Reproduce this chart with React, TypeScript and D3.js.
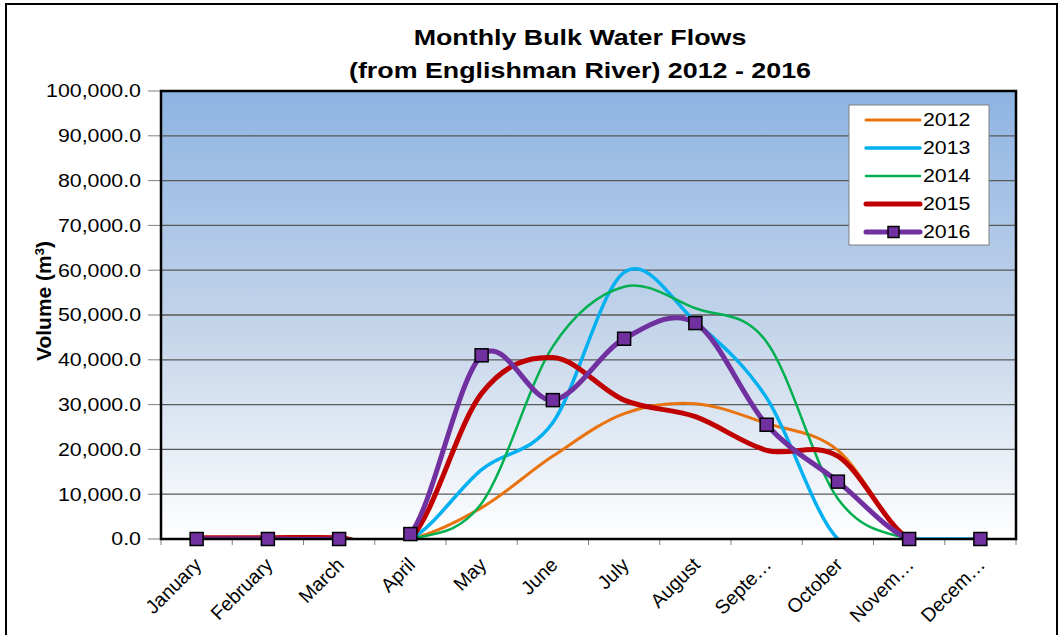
import * as d3 from "d3";

const months = [
  "January", "February", "March", "April", "May", "June",
  "July", "August", "Septe…", "October", "Novem…", "Decem…",
];
const years = ["2012", "2013", "2014", "2015", "2016"];

const flow2012 = [0, 0, 0, 0, 7000, 18500, 28000, 30200, 25800, 19800, 0, 0];
const flow2013 = [0, 0, 0, 0, 15500, 26000, 59500, 48500, 31500, 0, 0, 0];
const flow2014 = [0, 0, 0, 0, 8000, 43000, 56300, 51500, 44000, 9000, 0, 0];
const flow2015 = [300, 300, 300, 0, 32500, 40500, 31000, 27300, 19800, 18500, 0, 0];
const flow2016 = [0, 0, 0, 1100, 41000, 31000, 44700, 48200, 25500, 12800, 0, 0];

const yTicks = [0, 10000, 20000, 30000, 40000, 50000, 60000, 70000, 80000, 90000, 100000];

const series = [
  { name: years[0], values: flow2012, color: "#E8730F", width: 3 },
  { name: years[1], values: flow2013, color: "#00B0F0", width: 3.5 },
  { name: years[2], values: flow2014, color: "#00B050", width: 2.5 },
  { name: years[3], values: flow2015, color: "#C00000", width: 5 },
  { name: years[4], values: flow2016, color: "#7030A0", width: 5, marker: true },
];

const W = 1062;
const H = 635;
const plot = { left: 161, right: 1016, top: 91, bottom: 539 };
const FONT = "'Liberation Sans', Arial, sans-serif";
// the text in the original is a little wider than it is tall
const SX = 1.22;

export default function App() {
  const x = d3
    .scaleBand<string>()
    .domain(months)
    .range([plot.left, plot.right]);
  const y = d3
    .scaleLinear()
    .domain([0, 100000])
    .range([plot.bottom, plot.top]);

  const cx = (i: number) => (x(months[i]) as number) + x.bandwidth() / 2;

  const line = d3
    .line<number>()
    .x((_, i) => cx(i))
    .y((d) => y(d))
    .curve(d3.curveCardinal.tension(0));

  const fmt = d3.format(",.1f");

  return (
    <svg
      width={W}
      height={H}
      style={{ position: "absolute", left: 0, top: 0, background: "#fff" }}
      fontFamily={FONT}
    >
      <defs>
        <linearGradient id="bg" x1="0" y1="0" x2="0" y2="1">
          <stop offset="0" stopColor="#8EB4E3" />
          <stop offset="0.55" stopColor="#C6D6EA" />
          <stop offset="1" stopColor="#FFFFFF" />
        </linearGradient>
        <clipPath id="clip">
          <rect x={plot.left} y={plot.top} width={plot.right - plot.left} height={plot.bottom - plot.top} />
        </clipPath>
      </defs>

      {/* outer frame */}
      <rect x={6} y={4} width={1051} height={680} fill="none" stroke="#000" strokeWidth={2} />

      {/* title */}
      <g transform={`translate(580,45) scale(${SX},1)`}>
        <text textAnchor="middle" fontSize={22} fontWeight="bold">
          Monthly Bulk Water Flows
        </text>
      </g>
      <g transform={`translate(580,78) scale(${SX},1)`}>
        <text textAnchor="middle" fontSize={22} fontWeight="bold">
          (from Englishman River) 2012 - 2016
        </text>
      </g>

      {/* plot background */}
      <rect
        x={plot.left}
        y={plot.top}
        width={plot.right - plot.left}
        height={plot.bottom - plot.top}
        fill="url(#bg)"
      />

      {/* gridlines + y ticks */}
      {yTicks.map((t) => (
        <g key={t}>
          {t > 0 && t < 100000 && (
            <line x1={plot.left} x2={plot.right} y1={y(t)} y2={y(t)} stroke="#595959" strokeWidth={1.3} />
          )}
          <line x1={plot.left - 13} x2={plot.left} y1={y(t)} y2={y(t)} stroke="#808080" strokeWidth={1} />
          <g transform={`translate(${plot.left - 20},${y(t)}) scale(${SX},1)`}>
            <text dy="0.36em" textAnchor="end" fontSize={17.5}>
              {fmt(t)}
            </text>
          </g>
        </g>
      ))}

      {/* x ticks */}
      {months.map((m) => (
        <line
          key={m}
          x1={x(m) as number}
          x2={x(m) as number}
          y1={plot.bottom}
          y2={plot.bottom + 6}
          stroke="#808080"
        />
      ))}
      <line x1={plot.right} x2={plot.right} y1={plot.bottom} y2={plot.bottom + 6} stroke="#808080" />

      {/* x labels */}
      {months.map((m, i) => (
        <text
          key={m}
          transform={`translate(${cx(i) + 6},${plot.bottom + 27}) rotate(-45)`}
          textAnchor="end"
          fontSize={19.5}
        >
          {m}
        </text>
      ))}

      {/* series lines */}
      <g clipPath="url(#clip)">
        {series.map((s) => (
          <path
            key={s.name}
            d={line(s.values) as string}
            fill="none"
            stroke={s.color}
            strokeWidth={s.width}
            strokeLinejoin="round"
          />
        ))}
      </g>

      {/* plot border */}
      <rect
        x={plot.left}
        y={plot.top}
        width={plot.right - plot.left}
        height={plot.bottom - plot.top}
        fill="none"
        stroke="#000"
        strokeWidth={2.5}
      />

      {/* 2016 markers */}
      {flow2016.map((v, i) => (
        <rect
          key={i}
          x={cx(i) - 6.5}
          y={y(v) - 6.5}
          width={13}
          height={13}
          fill="#7030A0"
          stroke="#000"
          strokeWidth={1.5}
        />
      ))}

      {/* y axis title */}
      <text
        transform={`translate(51,${(plot.top + plot.bottom) / 2 - 14}) rotate(-90)`}
        textAnchor="middle"
        fontSize={21}
        fontWeight="bold"
      >
        Volume (m<tspan dy="-7" fontSize={13}>3</tspan><tspan dy="7">)</tspan>
      </text>

      {/* legend */}
      <rect x={849} y={105} width={140} height={140} fill="#fff" stroke="#808080" strokeWidth={1} />
      {series.map((s, i) => {
        const ly = 120 + i * 28;
        return (
          <g key={s.name}>
            <line x1={866} x2={920} y1={ly} y2={ly} stroke={s.color} strokeWidth={s.width} strokeLinecap="round" />
            {s.marker && (
              <rect x={888} y={ly - 5.5} width={11} height={11} fill="#7030A0" stroke="#000" strokeWidth={1.5} />
            )}
            <g transform={`translate(923,${ly}) scale(${SX},1)`}>
              <text dy="0.36em" fontSize={17.5}>
                {s.name}
              </text>
            </g>
          </g>
        );
      })}
    </svg>
  );
}
